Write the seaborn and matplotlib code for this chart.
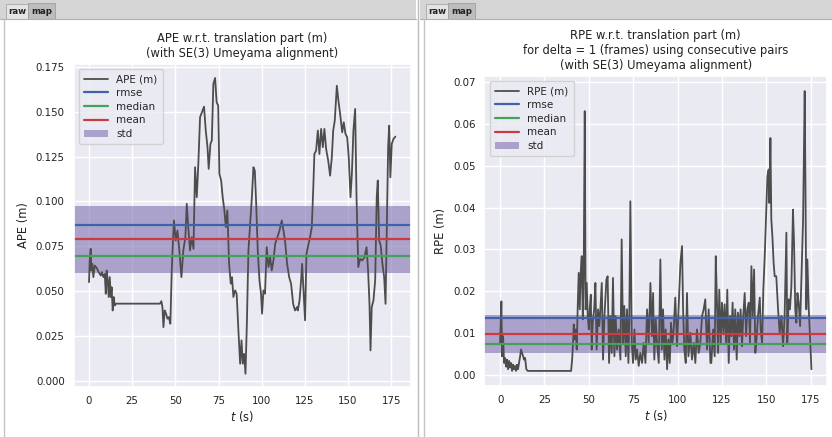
import matplotlib
matplotlib.use("Agg")
import matplotlib.pyplot as plt
import numpy as np
import pandas as pd
import seaborn as sns
from matplotlib.patches import Rectangle
from matplotlib.lines import Line2D

# ---------------- data ----------------
ape_t = [0.0, 0.4, 0.97, 1.35, 1.9, 2.5, 3.3, 4.4, 5.6, 6.8, 7.5, 8.3, 9.1, 9.7, 10.2,
         10.8, 11.4, 12.0, 12.6, 13.1, 13.7, 14.3, 14.9, 15.6, 41.1, 41.9, 42.5, 43.1,
         43.8, 44.6, 45.4, 46.2, 47.1, 47.9, 48.7, 49.2, 50.2, 51.2, 52.3, 53.5, 54.6,
         55.8, 56.6, 57.6, 58.5, 59.5, 60.5, 61.4, 62.4, 63.3, 64.3, 65.7, 66.6, 67.6,
         68.6, 69.3, 70.3, 71.1, 72.0, 73.0, 73.9, 74.8, 75.5, 76.5, 77.4, 78.4, 79.2,
         80.1, 81.1, 82.1, 82.8, 83.6, 84.6, 85.5, 86.5, 87.5, 88.3, 89.0, 89.8, 90.6,
         91.4, 92.3, 93.3, 94.3, 95.2, 96.0, 96.8, 97.7, 98.7, 99.6, 100.2, 101.0,
         101.9, 102.9, 103.9, 104.9, 105.8, 106.8, 107.8, 109.1, 110.3, 111.6, 112.6,
         113.5, 114.7, 115.9, 117.0, 118.2, 119.3, 120.5, 120.9, 121.9, 122.8, 123.4,
         124.4, 125.1, 125.9, 126.9, 128.0, 129.0, 129.8, 130.5, 131.5, 132.5, 133.4,
         134.4, 135.4, 136.3, 137.3, 138.5, 139.6, 140.6, 141.4, 142.3, 143.5, 144.4,
         145.4, 146.6, 147.5, 148.5, 149.5, 150.4, 151.4, 152.2, 153.1, 154.1, 154.9,
         155.9, 157.0, 158.2, 159.5, 160.7, 161.6, 162.4, 163.0, 163.7, 164.7, 165.7,
         166.6, 167.2, 168.0, 168.9, 169.9, 170.9, 171.7, 172.4, 173.2, 173.8, 174.5,
         175.3, 176.3, 177.4]
ape_v = [0.0550, 0.0671, 0.0736, 0.0615, 0.0652, 0.0578, 0.0643, 0.0630, 0.0606, 0.0587,
         0.0606, 0.0578, 0.0596, 0.0485, 0.0615, 0.0560, 0.0467, 0.0578, 0.0467, 0.0522,
         0.0392, 0.0467, 0.0420, 0.0430, 0.0430, 0.0444, 0.0411, 0.0299, 0.0392, 0.0374,
         0.0346, 0.0355, 0.0318, 0.0615, 0.0801, 0.0894, 0.0782, 0.0838, 0.0727, 0.0578,
         0.0727, 0.0801, 0.0987, 0.0838, 0.0727, 0.0801, 0.0736, 0.1191, 0.1024, 0.1210,
         0.1470, 0.1507, 0.1529, 0.1396, 0.1303, 0.1182, 0.1321, 0.1340, 0.1656, 0.1689,
         0.1553, 0.1535, 0.1154, 0.1117, 0.1024, 0.0950, 0.0857, 0.0950, 0.0652, 0.0541,
         0.0578, 0.0467, 0.0504, 0.0485, 0.0281, 0.0095, 0.0225, 0.0095, 0.0150, 0.0039,
         0.0318, 0.0727, 0.0876, 0.1024, 0.1191, 0.1172, 0.0987, 0.0727, 0.0560, 0.0485,
         0.0374, 0.0504, 0.0485, 0.0745, 0.0634, 0.0689, 0.0615, 0.0671, 0.0764, 0.0801,
         0.0838, 0.0894, 0.0838, 0.0782, 0.0652, 0.0578, 0.0541, 0.0429, 0.0392, 0.0411,
         0.0392, 0.0448, 0.0560, 0.0652, 0.0467, 0.0337, 0.0708, 0.0754, 0.0801, 0.0857,
         0.1061, 0.1265, 0.1284, 0.1396, 0.1265, 0.1405, 0.1303, 0.1405, 0.1293, 0.1228,
         0.1144, 0.1247, 0.1396, 0.1451, 0.1646, 0.1563, 0.1489, 0.1386, 0.1442, 0.1377,
         0.1358, 0.1247, 0.1024, 0.1154, 0.1396, 0.1516, 0.1024, 0.0634, 0.0680, 0.0671,
         0.0689, 0.0745, 0.0615, 0.0429, 0.0169, 0.0411, 0.0448, 0.0560, 0.1024, 0.1117,
         0.0782, 0.0754, 0.0652, 0.0578, 0.0429, 0.0838, 0.1303, 0.1423, 0.1135, 0.1321,
         0.1349, 0.1362]

rpe_t = [0.0, 0.38, 0.75, 1.1, 1.7, 2.25, 2.8, 3.4, 3.9, 4.5, 5.1, 5.6, 6.2, 6.8, 7.3,
         7.9, 8.5, 9.0, 9.6, 10.1, 10.7, 11.3, 11.8, 12.4, 13.0, 13.5, 14.1, 14.8, 15.6,
         40.0, 40.6, 41.1, 41.5, 42.0, 42.6, 43.2, 43.7, 44.3, 44.9, 45.4, 46.0, 46.6,
         47.1, 47.7, 48.2, 48.8, 49.4, 50.0, 50.5, 51.1, 51.6, 52.2, 53.0, 53.7, 54.4,
         55.2, 55.9, 56.5, 57.3, 58.0, 58.8, 59.9, 60.6, 61.4, 62.1, 62.9, 63.6, 64.4,
         65.1, 65.9, 66.8, 67.8, 68.5, 69.3, 70.0, 70.8, 71.5, 72.3, 72.8, 73.4, 74.2,
         74.9, 75.7, 76.4, 77.2, 78.1, 79.0, 80.0, 80.9, 81.9, 82.8, 83.7, 84.7, 85.6,
         86.2, 86.9, 87.7, 88.4, 89.4, 90.3, 91.1, 91.8, 92.6, 93.3, 94.1, 94.8, 95.6,
         96.3, 97.1, 97.8, 98.7, 99.7, 100.6, 101.6, 102.5, 103.1, 103.8, 104.6, 105.3,
         106.1, 107.2, 108.1, 109.1, 110.0, 110.9, 111.9, 112.8, 113.8, 114.7, 115.6,
         116.6, 117.5, 118.5, 119.0, 120.0, 120.9, 121.5, 122.2, 122.8, 123.5, 124.3,
         125.0, 125.8, 126.5, 127.3, 128.0, 128.8, 129.5, 130.3, 131.0, 131.8, 132.5,
         133.3, 134.0, 134.8, 135.5, 136.3, 137.0, 137.8, 138.6, 139.3, 140.1, 140.8,
         141.6, 142.3, 143.1, 143.8, 144.6, 145.3, 146.3, 146.8, 147.6, 148.3, 149.1,
         149.8, 150.6, 151.3, 151.7, 152.3, 152.8, 153.4, 154.1, 154.7, 155.6, 156.6,
         157.5, 158.5, 159.4, 160.3, 161.3, 161.8, 162.6, 163.3, 164.1, 165.0, 165.6,
         166.3, 166.9, 167.5, 168.2, 169.0, 169.7, 170.7, 171.6, 172.0, 172.5, 173.1,
         173.9, 174.6, 175.4]
rpe_v = [0.0077, 0.0125, 0.0176, 0.0045, 0.0093, 0.0029, 0.0041, 0.0020, 0.0037, 0.0014,
         0.0034, 0.0018, 0.0029, 0.0010, 0.0025, 0.0014, 0.0022, 0.0010, 0.0025, 0.0014,
         0.0029, 0.0045, 0.0061, 0.0053, 0.0045, 0.0037, 0.0041, 0.0014, 0.0010, 0.0010,
         0.0037, 0.0077, 0.0121, 0.0085, 0.0109, 0.0061, 0.0157, 0.0244, 0.0157, 0.0244,
         0.0284, 0.0133, 0.0236, 0.0630, 0.0157, 0.0220, 0.0141, 0.0109, 0.0157, 0.0192,
         0.0061, 0.0125, 0.0157, 0.0220, 0.0061, 0.0157, 0.0117, 0.0157, 0.0220, 0.0037,
         0.0141, 0.0228, 0.0236, 0.0029, 0.0141, 0.0053, 0.0232, 0.0045, 0.0141, 0.0061,
         0.0109, 0.0037, 0.0324, 0.0077, 0.0165, 0.0045, 0.0157, 0.0029, 0.0141, 0.0415,
         0.0077, 0.0029, 0.0109, 0.0037, 0.0061, 0.0022, 0.0053, 0.0029, 0.0077, 0.0029,
         0.0157, 0.0077, 0.0220, 0.0093, 0.0196, 0.0037, 0.0133, 0.0077, 0.0029, 0.0276,
         0.0061, 0.0157, 0.0037, 0.0109, 0.0014, 0.0085, 0.0029, 0.0125, 0.0077, 0.0109,
         0.0185, 0.0069, 0.0165, 0.0268, 0.0308, 0.0157, 0.0061, 0.0029, 0.0196, 0.0045,
         0.0101, 0.0037, 0.0077, 0.0029, 0.0109, 0.0053, 0.0077, 0.0141, 0.0157, 0.0181,
         0.0061, 0.0157, 0.0029, 0.0029, 0.0109, 0.0045, 0.0284, 0.0173, 0.0053, 0.0204,
         0.0077, 0.0173, 0.0101, 0.0169, 0.0077, 0.0204, 0.0029, 0.0141, 0.0093, 0.0173,
         0.0061, 0.0157, 0.0037, 0.0149, 0.0093, 0.0157, 0.0069, 0.0141, 0.0196, 0.0093,
         0.0157, 0.0173, 0.0077, 0.0260, 0.0141, 0.0252, 0.0053, 0.0093, 0.0141, 0.0185,
         0.0109, 0.0077, 0.0204, 0.0284, 0.0372, 0.0475, 0.0491, 0.0411, 0.0566, 0.0372,
         0.0332, 0.0268, 0.0236, 0.0236, 0.0157, 0.0101, 0.0141, 0.0069, 0.0141, 0.0340,
         0.0077, 0.0181, 0.0157, 0.0212, 0.0395, 0.0316, 0.0157, 0.0125, 0.0196, 0.0173,
         0.0117, 0.0220, 0.0372, 0.0678, 0.0475, 0.0157, 0.0276, 0.0157, 0.0093, 0.0014]

ape_rmse, ape_median, ape_mean, ape_std = 0.0871, 0.0695, 0.0789, 0.0371
rpe_rmse, rpe_median, rpe_mean, rpe_std = 0.01353, 0.00733, 0.00986, 0.0092

x_ticks = [0, 25, 50, 75, 100, 125, 150, 175]
ape_yticks = [0.000, 0.025, 0.050, 0.075, 0.100, 0.125, 0.150, 0.175]
rpe_yticks = [0.00, 0.01, 0.02, 0.03, 0.04, 0.05, 0.06, 0.07]

ape_title = "APE w.r.t. translation part (m)\n(with SE(3) Umeyama alignment)"
rpe_title = ("RPE w.r.t. translation part (m)\nfor delta = 1 (frames) using consecutive pairs\n"
             "(with SE(3) Umeyama alignment)")

# ---------------- style ----------------
sns.set_theme(style="darkgrid")
plt.rcParams['font.family'] = ['DejaVu Sans']

W, H = 832, 437
fig = plt.figure(figsize=(W / 100, H / 100), dpi=100)
fig.patch.set_facecolor("white")

C_LINE = "#4d4d4d"
C_RMSE = "#3f62ab"
C_MED = "#46a05a"
C_MEAN = "#cc3a3f"
C_STD = "#8172B2"


def fr(x, y):
    return x / W, 1 - y / H


def rect_px(x0, y0, x1, y1, **kw):
    fx0, fy1 = fr(x0, y1)
    r = Rectangle((fx0, fy1), (x1 - x0) / W, (y1 - y0) / H,
                  transform=fig.transFigure, **kw)
    fig.add_artist(r)


def panel_frame(x0, x1):
    rect_px(x0, 0, x1, 19, facecolor="#d5d5d5", edgecolor="none", lw=0)
    fig.add_artist(Line2D([x0 / W, x1 / W], [1 - 19 / H, 1 - 19 / H],
                          transform=fig.transFigure, color="#b0b0b0", lw=0.8))
    rect_px(x0 + 6, 4, x0 + 28, 19, facecolor="#e4e4e4", edgecolor="#a8a8a8", lw=0.6)
    rect_px(x0 + 28, 3, x0 + 55, 19, facecolor="#bdbdbd", edgecolor="#a0a0a0", lw=0.6)
    fx, fy = fr(x0 + 17, 11.5)
    fig.text(fx, fy, "raw", ha="center", va="center", fontsize=6.2,
             fontweight="semibold", color="#222222")
    fx, fy = fr(x0 + 41.5, 11.5)
    fig.text(fx, fy, "map", ha="center", va="center", fontsize=6.2,
             fontweight="semibold", color="#222222")
    fig.add_artist(Line2D([(x0 + 4) / W, (x0 + 4) / W], [1 - 19 / H, 0],
                          transform=fig.transFigure, color="#c4c4c4", lw=1.0))


panel_frame(0, 416)
panel_frame(420, 832)
fig.add_artist(Line2D([418 / W, 418 / W], [0, 1], transform=fig.transFigure,
                      color="#bcbcbc", lw=1.0))

ax1 = fig.add_axes([73.7 / W, 1 - 387 / H, 337 / W, 323 / H])
ax2 = fig.add_axes([484.5 / W, 1 - 386 / H, 342.5 / W, 310 / H])


def draw(ax, t, v, name, rmse, median, mean, std, yticks, ylim, title):
    df = pd.DataFrame({"t": t, name: v})
    sns.lineplot(data=df, x="t", y=name, ax=ax, color=C_LINE, lw=1.3,
                 estimator=None, sort=False, label=name)
    ax.axhline(rmse, color=C_RMSE, lw=1.6, label="rmse")
    ax.axhline(median, color=C_MED, lw=1.6, label="median")
    ax.axhline(mean, color=C_MEAN, lw=1.6, label="mean")
    ax.axhspan(mean - std / 2, mean + std / 2, color=C_STD, alpha=0.6, lw=0,
               label="std")
    ax.set_xticks(x_ticks)
    ax.set_yticks(yticks)
    ax.set_ylim(*ylim)
    ax.margins(x=0.05)
    ax.tick_params(axis="both", labelsize=7.4, length=0, pad=6.5, colors="#222222")
    ax.set_xlabel("$t$ (s)", fontsize=8.3, labelpad=2, color="#222222")
    ax.set_ylabel(name, fontsize=8.3, labelpad=4, color="#222222")
    ax.set_title(title, fontsize=8.3, pad=5, color="#222222", linespacing=1.2)
    ax.legend(loc="upper left", fontsize=7.5, frameon=True, framealpha=0.8,
              facecolor="#EAEAF2", edgecolor="#cccccc", labelspacing=0.35,
              handlelength=2.3, borderpad=0.5)


draw(ax1, ape_t, ape_v, "APE (m)", ape_rmse, ape_median, ape_mean, ape_std,
     ape_yticks, (-0.0035, 0.1767), ape_title)
draw(ax2, rpe_t, rpe_v, "RPE (m)", rpe_rmse, rpe_median, rpe_mean, rpe_std,
     rpe_yticks, (-0.0026, 0.0714), rpe_title)
ax1.set_yticklabels([f"{y:.3f}" for y in ape_yticks])
ax2.set_yticklabels([f"{y:.2f}" for y in rpe_yticks])

fig.savefig("out.png", dpi=100)
